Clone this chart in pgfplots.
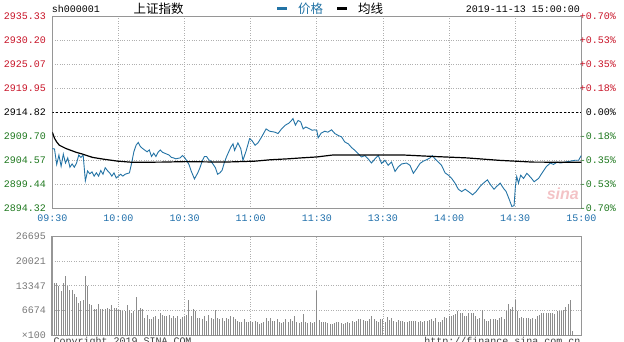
\documentclass[border=0pt]{standalone}
\usepackage{pgfplots}
\usepackage{pgfplotstable}
\pgfplotsset{compat=1.18}
\usepackage{fontspec}
\setmainfont{Liberation Mono}
\newfontfamily\cjk{Noto Sans CJK SC}
\newfontfamily\sinafont{Liberation Sans}
\definecolor{pblue}{RGB}{35,115,165}
\definecolor{tblue}{RGB}{30,110,170}
\definecolor{ured}{RGB}{200,20,40}
\definecolor{dgreen}{RGB}{30,120,30}
\definecolor{vgray}{RGB}{140,140,140}
\definecolor{bgray}{RGB}{150,150,150}
\definecolor{ggray}{RGB}{175,175,175}
\definecolor{lgray}{RGB}{120,120,120}

\pgfplotstableread{
m p
0 2907.1
1 2907.0
2 2903.7
3 2905.7
4 2903.3
5 2905.9
6 2904.0
7 2905.1
8 2903.1
9 2903.8
10 2903.1
11 2904.0
12 2905.7
13 2905.2
14 2905.7
15 2900.2
16 2902.3
17 2901.7
18 2902.1
19 2901.2
20 2901.9
21 2901.2
22 2902.4
23 2901.6
24 2903.0
25 2902.4
26 2901.9
27 2901.2
28 2901.9
29 2900.8
31 2901.6
32 2901.2
33 2901.6
35 2901.9
36 2904.0
37 2906.4
38 2907.8
39 2908.4
40 2907.5
41 2907.1
43 2906.4
44 2906.8
45 2905.4
46 2906.1
47 2905.4
48 2906.3
49 2906.8
50 2906.3
52 2905.9
53 2905.7
54 2905.2
55 2905.1
56 2904.9
58 2905.1
59 2905.6
60 2905.2
61 2904.5
62 2903.7
63 2902.3
64.5 2900.6
66 2901.9
67 2903.0
68 2904.4
69 2905.4
70 2905.4
71 2904.7
72 2904.4
74 2903.0
75 2901.6
76 2901.9
77 2902.4
78 2904.0
79 2905.3
81 2907.4
82 2908.1
82.7 2906.7
84.2 2908.3
85.5 2907.1
86.5 2904.6
88 2906.7
89.5 2909.2
90.6 2908.8
92 2907.8
93.3 2908.3
95 2909.6
97 2911.3
98.6 2910.8
101 2910.6
102.4 2910.3
104 2911.3
105.7 2912.1
107.3 2912.5
108.5 2913.1
109.2 2913.5
110.3 2912.1
111.5 2913.1
112.7 2912.8
113.8 2911.3
115 2911.7
116.8 2911.3
117.9 2911.0
119 2911.1
120 2911.0
120.6 2909.4
122 2910.4
123.6 2910.8
125 2910.6
126.7 2911.1
128.2 2910.3
129.7 2909.9
131.2 2909.6
132.7 2908.5
134.3 2908.1
135.8 2907.3
137.3 2906.7
138.8 2906.0
140.3 2905.3
141.8 2905.6
143.3 2904.9
144.8 2904.0
146.4 2904.9
147.9 2905.6
149.4 2903.9
150.9 2904.6
152.4 2903.5
153.9 2904.2
155.5 2902.2
157 2903.2
158.5 2903.8
160.7 2904.0
162.3 2903.5
163.8 2901.8
165.3 2902.8
166.8 2903.9
168.3 2904.4
169.8 2904.7
171.4 2905.1
172.4 2905.6
173.6 2904.9
175.1 2904.2
176.6 2903.5
178.2 2901.9
179.7 2901.4
181.2 2900.7
182.7 2899.7
184.2 2898.4
185.7 2897.9
187.3 2898.4
188.8 2897.9
190.7 2897.2
192.3 2897.9
194.1 2899.0
195.6 2899.7
197.4 2900.4
198.9 2899.3
200.4 2898.4
201.6 2899.0
203.2 2899.7
204.7 2898.6
205.9 2897.9
207.4 2896.1
208.5 2894.7
209.5 2894.9
210.1 2899.0
210.7 2901.1
211.5 2899.7
212.5 2901.4
213.8 2900.7
215.3 2901.8
217.1 2900.9
218.6 2900.0
220.6 2900.7
222.1 2901.8
224.1 2903.2
225.9 2904.0
227.4 2903.7
229 2904.2
230.5 2904.0
232.7 2904.2
235 2904.4
237.3 2904.6
238.8 2904.6
239.6 2905.3
240 2905.6
}\pricetable

\pgfplotstableread{
m a
0 2910.6
1 2909.3
2 2908.5
3.2 2907.8
6.2 2907.1
10.8 2906.3
13.8 2905.9
18.3 2905.2
22.9 2904.85
29.7 2904.4
36.5 2904.15
50 2904.2
60 2904.3
78 2904.2
92 2904.4
99 2904.7
107 2904.9
113 2905.1
120 2905.3
127 2905.7
160 2905.7
173 2905.4
188 2905.1
203 2904.57
218 2904.2
240 2904.15
}\avgtable

\pgfplotstableread{
m v
0 13960
1 13960
2 13960
3 13270
4 12050
5 14130
6 15870
7 13270
8 12230
9 12230
10 11180
11 10320
12 8760
13 9190
14 9620
15 15870
16 13270
17 8580
18 8060
19 7200
20 7200
21 8320
22 7020
23 7020
24 7200
25 7460
26 7020
27 8060
28 7460
29 7460
30 6850
31 6850
32 6680
33 6680
34 8060
35 6850
36 6160
37 6590
38 10320
39 6850
40 7460
41 7020
42 4600
43 5550
44 4420
45 4420
46 4860
47 5290
48 4420
49 6160
50 5460
51 5120
52 5290
53 5460
54 4600
55 5120
56 4600
57 5290
58 4420
59 4860
60 5290
61 5460
62 9450
63 5290
64 7020
65 6590
66 4600
67 4600
68 4420
69 5290
70 3990
71 5460
72 4600
73 4420
74 6850
75 4600
76 4420
77 4600
78 3990
79 4600
80 4420
81 5290
82 4860
83 4420
84 3990
85 3730
86 3560
87 4420
88 3560
89 3730
90 3990
91 3560
92 3990
93 3560
94 3120
95 3380
96 3560
97 4600
98 3990
99 4600
100 3990
101 3990
102 4420
103 3560
104 3380
105 3560
106 4420
107 3560
108 4420
109 3990
110 5290
111 3560
112 3380
113 3560
114 5720
115 3730
116 3380
117 3560
118 3380
119 3560
120 12050
121 4250
122 3560
123 3560
124 3560
125 3380
126 3120
127 3120
128 3380
129 3730
130 3560
131 3380
132 3120
133 3380
134 3560
135 3380
136 3990
137 3730
138 3990
139 4420
140 4420
141 4250
142 3990
143 3990
144 4420
145 5290
146 4420
147 3990
148 3730
149 4420
150 4420
151 3560
152 4860
153 4250
154 4600
155 3990
156 3730
157 4250
158 3990
159 3990
160 3730
161 3730
162 3990
163 3990
164 3990
165 3990
166 3730
167 3990
168 3560
169 3990
170 3990
171 4250
172 4420
173 3990
174 4600
175 3560
176 3730
177 4250
178 4860
179 4600
180 5120
181 5290
182 5460
183 5720
184 6590
185 5980
186 6160
187 5120
188 5290
189 6160
190 6160
191 5980
192 5120
193 4420
194 4600
195 6850
196 4420
197 3990
198 3990
199 4420
200 4420
201 4420
202 4250
203 4600
204 4860
205 4420
206 6590
207 8320
208 7200
209 7720
210 9450
211 6590
212 4600
213 4860
214 4600
215 4600
216 4600
217 4420
218 4600
219 4420
220 5290
221 5460
222 5980
223 5980
224 5980
225 5980
226 5980
227 5980
228 5720
229 6590
230 6590
231 6590
232 6850
233 7720
234 8580
235 9450
236 1130
}\voltable

\pgfplotsset{
  every tick label/.append style={font=\fontsize{10}{12}\selectfont},
}

\begin{document}
\begin{tikzpicture}[x=1pt,y=1pt]
% ---------- price panel ----------
\begin{axis}[
  at={(52.3pt,132.7pt)}, anchor=south west, scale only axis,
  width=529pt, height=191.8pt,
  xmin=0, xmax=240, ymin=2894.32, ymax=2935.33,
  axis line style={bgray, line width=0.8pt},
  major tick length=0pt,
  xtick={0,30,60,90,120,150,180,210,240},
  xticklabels={09:30,10:00,10:30,11:00,11:30,13:30,14:00,14:30,15:00},
  xticklabel style={anchor=base, inner sep=0pt, yshift=-13.4pt, text=tblue},
  ytick={2894.32,2899.44,2904.57,2909.70,2914.82,2919.95,2925.07,2930.20,2935.33},
  yticklabels={\textcolor{dgreen}{2894.32},\textcolor{dgreen}{2899.44},\textcolor{dgreen}{2904.57},\textcolor{dgreen}{2909.70},\textcolor{black}{2914.82},\textcolor{ured}{2919.95},\textcolor{ured}{2925.07},\textcolor{ured}{2930.20},\textcolor{ured}{2935.33}},
  yticklabel style={anchor=east, inner sep=0pt, xshift=-6.3pt},
  xmajorgrids, ymajorgrids,
  major grid style={ggray, dotted, line width=0.7pt},
]
\addplot[black, line width=0.8pt, dash pattern=on 2pt off 2pt] coordinates {(0,2914.82) (240,2914.82)};
\addplot[pblue, line width=0.9pt] table[x=m, y=p] {\pricetable};
\addplot[black, line width=1.2pt] table[x=m, y=a] {\avgtable};
\end{axis}
% right-hand percentage scale (change from previous close 2914.82)
\begin{scope}[every node/.style={anchor=east, inner sep=0pt, font=\fontsize{10}{12}\selectfont}]
\node[text=dgreen] at (616,132.7) {-0.70\%};
\node[text=dgreen] at (616,156.675) {-0.53\%};
\node[text=dgreen] at (616,180.65) {-0.35\%};
\node[text=dgreen] at (616,204.625) {-0.18\%};
\node[text=black] at (616,228.6) {0.00\%};
\node[text=ured] at (616,252.575) {+0.18\%};
\node[text=ured] at (616,276.55) {+0.35\%};
\node[text=ured] at (616,300.525) {+0.53\%};
\node[text=ured] at (616,324.5) {+0.70\%};
\end{scope}
% ---------- volume panel ----------
\begin{axis}[
  at={(52.3pt,5.5pt)}, anchor=south west, scale only axis,
  width=529pt, height=99.5pt,
  xmin=0, xmax=240, ymin=0, ymax=26695,
  scaled y ticks=false,
  axis line style={bgray, line width=0.8pt},
  major tick length=0pt,
  xtick={0,30,60,90,120,150,180,210,240},
  xticklabels={},
  ytick={0,6674,13347,20021,26695},
  yticklabels={×100,6674,13347,20021,26695},
  yticklabel style={anchor=east, inner sep=0pt, xshift=-6.3pt, text=lgray},
  xmajorgrids, ymajorgrids,
  major grid style={ggray, dotted, line width=0.7pt},
]
\addplot[ycomb, vgray, line width=1pt] table[x=m, y=v] {\voltable};
\end{axis}
\draw[bgray, line width=1.8pt] (52.3,5.5) -- (52.3,105);
% ---------- header ----------
\node[anchor=base west, inner sep=0pt, font=\fontsize{10}{12}\selectfont] at (51.7,328.5) {sh000001};
\node[anchor=west, inner sep=0pt, font=\cjk\fontsize{12.5}{14}\selectfont] at (133.3,332) {上证指数};
\fill[pblue] (277,331) rectangle (287,334);
\node[anchor=west, inner sep=0pt, text=pblue, font=\cjk\fontsize{12.5}{14}\selectfont] at (298,332) {价格};
\fill[black] (337.3,331) rectangle (346.7,334);
\node[anchor=west, inner sep=0pt, font=\cjk\fontsize{12.5}{14}\selectfont] at (358,332) {均线};
\node[anchor=base east, inner sep=0pt, font=\fontsize{10}{12}\selectfont] at (580,328.7) {2019-11-13 15:00:00};
% ---------- watermark ----------
\node[anchor=base east, inner sep=0pt, text={rgb,255:red,243;green,195;blue,198}, font=\sinafont\bfseries\itshape\fontsize{16}{18}\selectfont] at (579,141.5) {sina};
% ---------- footer ----------
\node[anchor=base west, inner sep=0pt, text={rgb,255:red,60;green,60;blue,60}, font=\fontsize{10}{12}\selectfont] at (53.3,-3) {Copyright 2019 SINA.COM};
\node[anchor=base east, inner sep=0pt, text={rgb,255:red,60;green,60;blue,60}, font=\fontsize{10}{12}\selectfont] at (580.5,-3) {http://finance.sina.com.cn};
\pgfresetboundingbox
\path[use as bounding box] (0,0) rectangle (624,341);
\end{tikzpicture}
\end{document}
